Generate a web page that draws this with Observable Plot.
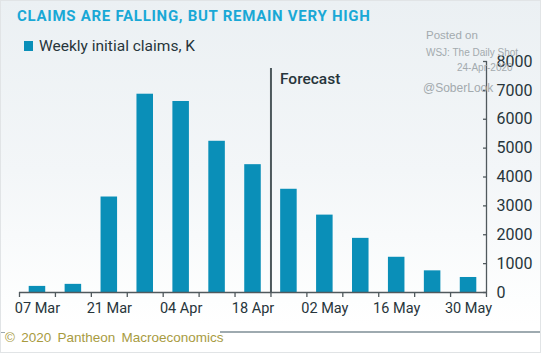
<!DOCTYPE html>
<html>
<head>
<meta charset="utf-8">
<script src="https://cdn.jsdelivr.net/npm/d3@7"></script>
<script src="https://cdn.jsdelivr.net/npm/@observablehq/plot@0.6"></script>
<style>
html, body { margin: 0; padding: 0; background: #fff; }
body { width: 541px; height: 353px; overflow: hidden; font-family: Roboto, "Open Sans", sans-serif; }
#wrap { position: relative; width: 541px; height: 353px; overflow: hidden;
  background: linear-gradient(#ebf0f3 0px, #f3f6f8 170px, #fdfefe 300px, #ffffff 326px); }
#title { position: absolute; left: 17px; top: 7px; font-size: 15px; font-weight: 700; color: #19a8d6; letter-spacing: 0.72px; white-space: nowrap; }
#legend { position: absolute; left: 24px; top: 37px; font-size: 15.5px; color: #27353b; white-space: nowrap; display: flex; align-items: center; }
#legend .sw { width: 9px; height: 10px; background: #0a8fb8; margin-right: 6px; }
#chart { position: absolute; left: 0; top: 50px; }
.wm { position: absolute; font-family: "Liberation Sans", Arial, sans-serif; color: #a3aaae; white-space: nowrap; z-index: 3; }
#foot { position: absolute; left: 5px; top: 330px; font-family: "Liberation Sans", Arial, sans-serif; font-size: 13.5px; color: #a89b3f; word-spacing: 2.5px; white-space: nowrap; }
#fline { position: absolute; left: 220px; top: 331px; width: 320px; height: 2px; background: #9eaab0; }
#fline2 { position: absolute; left: 0px; top: 332px; width: 5px; height: 1px; background: #9eaab0; }
#border { position: absolute; left: 0; top: 0; width: 541px; height: 353px; box-sizing: border-box; border: 1px solid #e1e4e6; z-index: 5; pointer-events: none; }
</style>
</head>
<body>
<div id="wrap">
  <div id="title">CLAIMS ARE FALLING, BUT REMAIN VERY HIGH</div>
  <div id="legend"><span class="sw"></span><span>Weekly initial claims, K</span></div>
  <div id="chart"></div>
  <div class="wm" style="left:426px;top:29px;font-size:11.5px;">Posted on</div>
  <div class="wm" style="left:426px;top:47px;font-size:10px;">WSJ: The Daily Shot</div>
  <div class="wm" style="left:457px;top:62px;font-size:10px;">24-Apr-2020</div>
  <div class="wm" style="left:423px;top:81px;font-size:12px;">@SoberLook</div>
  <div id="fline2"></div>
  <div id="fline"></div>
  <div id="foot">© 2020 Pantheon Macroeconomics</div>
  <div id="border"></div>
</div>
<script>
// Data (weeks ending Saturday; K claims). From Apr 25 on: forecast.
const weeks = ["2020-03-07","2020-03-14","2020-03-21","2020-03-28","2020-04-04","2020-04-11","2020-04-18",
               "2020-04-25","2020-05-02","2020-05-09","2020-05-16","2020-05-23","2020-05-30"];
const claims = [211, 282, 3307, 6867, 6615, 5237, 4427, 3575, 2680, 1875, 1220, 750, 520];
const xLabelWeeks = ["2020-03-07","2020-03-21","2020-04-04","2020-04-18","2020-05-02","2020-05-16","2020-05-30"];
const yTicks = [0, 1000, 2000, 3000, 4000, 5000, 6000, 7000, 8000];
const forecastStart = "2020-04-25";
const forecastLabel = "Forecast";

const parse = d3.utcParse("%Y-%m-%d");
const half = 3.5 * 24 * 3600 * 1000;
const shift = (d, k) => new Date(+d + k);
const data = weeks.map((w, i) => ({date: parse(w), value: claims[i]}));
const start = shift(data[0].date, -half);
const end = shift(data[data.length - 1].date, half);
const edges = data.map(d => shift(d.date, -half)).concat([end]);
const forecastEdge = shift(parse(forecastStart), -half);
const ink = "#27353b";
const axisInk = "#50595d";

const chart = Plot.plot({
  width: 541,
  height: 275,
  marginTop: 11,
  marginBottom: 33,
  marginLeft: 19,
  marginRight: 55,
  style: {background: "transparent", fontFamily: "Roboto, 'Open Sans', sans-serif", color: ink, overflow: "visible"},
  x: {type: "utc", domain: [start, end], axis: null},
  y: {domain: [0, 8000], axis: null},
  marks: [
    Plot.rectY(data, {x1: d => shift(d.date, -half), x2: d => shift(d.date, half), y: "value",
      fill: "#0a8fb8", insetLeft: 9.7, insetRight: 9.7}),
    Plot.ruleY([0], {stroke: axisInk, strokeWidth: 1.3}),
    Plot.ruleX([end], {stroke: axisInk, strokeWidth: 1.3}),
    Plot.axisX({ticks: edges, tickSize: 5, tickFormat: () => "", label: null, stroke: axisInk, strokeWidth: 1.3}),
    Plot.axisX({ticks: xLabelWeeks.map(parse), tickSize: 0, tickPadding: 10, label: null,
      tickFormat: d3.utcFormat("%d %b"), fontSize: 14.5, fill: ink}),
    Plot.axisY({anchor: "right", ticks: yTicks, tickSize: 4, insetRight: 4, tickPadding: 10, label: null,
      tickFormat: d => String(d), fontSize: 16, fill: ink, stroke: axisInk, strokeWidth: 1.3}),
    Plot.ruleX([forecastEdge], {stroke: "#4d585c", strokeWidth: 2, insetTop: 7}),
    Plot.text([forecastLabel], {x: [forecastEdge], frameAnchor: "top", textAnchor: "start", lineAnchor: "top",
      dx: 9, dy: 11, fontSize: 15.5, fontWeight: 500, fill: ink})
  ]
});
document.getElementById("chart").appendChild(chart);
</script>
</body>
</html>
